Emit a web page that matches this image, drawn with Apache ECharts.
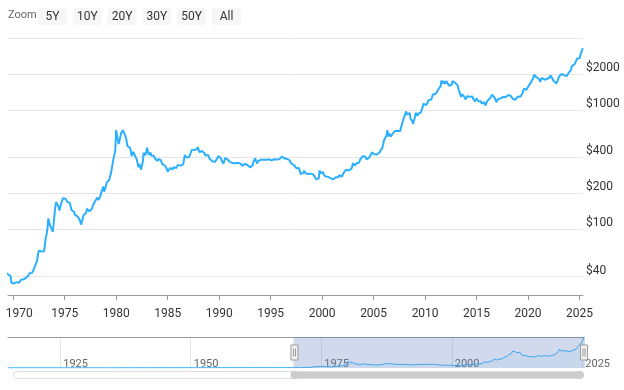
<!DOCTYPE html>
<html><head><meta charset="utf-8">
<script src="https://cdn.jsdelivr.net/npm/echarts@6/dist/echarts.min.js"></script>
<style>html,body{margin:0;padding:0;background:#fff}#c{width:624px;height:390px}</style>
</head><body><div id="c"></div>
<script>
// Pre-1969 history (used by the navigator)
const historyYears  = [1915, 1933.9, 1934.1, 1967.9, 1968.25, 1968.5, 1968.75, 1969.0, 1969.25];
const historyPrices = [20.67, 20.67, 35.0, 35.0, 38.0, 40.5, 39.5, 42.3, 43.3];
// Monthly averages, USD/oz
const gold1969H2 = [41.8, 41.0, 40.8, 40.4, 35.4, 35.2];
const gold1970s = [
 34.99,35.00,35.10,35.60,35.90,35.40,35.30,35.40,36.20,37.50,37.40,37.40,
 37.90,38.70,38.90,39.00,40.50,40.10,41.00,42.70,42.00,42.50,42.90,43.50,
 45.80,48.30,48.30,49.00,54.60,62.10,65.70,67.00,65.50,64.90,62.90,63.90,
 65.10,74.20,84.40,90.50,102.0,122.5,120.2,106.8,102.9,100.1,94.80,106.7,
 129.2,150.2,168.4,172.2,163.3,154.1,143.0,154.6,151.8,158.8,181.7,183.9,
 176.0,179.6,178.6,169.6,167.4,164.3,165.4,163.2,144.6,142.4,142.7,139.3,
 131.5,130.4,132.7,128.0,126.9,125.9,117.6,109.0,114.0,116.1,130.3,133.9,
 132.3,136.3,148.1,149.2,146.6,140.8,143.4,145.0,149.4,158.8,162.2,160.5,
 173.2,178.2,183.7,175.3,176.3,183.7,188.7,206.2,212.4,227.6,206.1,207.8,
 227.3,245.7,242.1,239.2,257.6,279.1,294.6,300.8,355.1,391.7,392.5,455.1];
const gold1980s = [
 675.3,665.3,553.6,517.4,513.8,600.7,644.3,627.2,673.6,661.2,623.5,594.9,
 557.5,500.2,499.8,495.8,479.7,460.8,409.3,410.2,443.6,437.8,413.4,410.1,
 384.4,374.2,330.2,350.5,333.9,314.9,339.1,364.2,435.6,422.6,414.8,444.3,
 481.3,491.3,419.8,432.6,437.3,412.8,422.7,416.3,411.8,393.5,381.6,388.0,
 370.9,386.8,394.6,381.4,377.7,377.6,348.2,348.4,341.1,340.2,341.2,320.2,
 302.8,299.1,304.0,324.9,316.5,316.8,317.4,330.1,323.1,325.3,325.3,322.4,
 345.4,338.9,345.7,340.4,342.5,342.8,348.5,376.7,417.7,423.2,397.8,388.8,
 408.3,401.1,408.9,438.4,460.2,449.6,450.5,461.3,460.6,465.4,467.6,486.3,
 477.2,442.2,443.6,451.7,451.3,451.5,437.5,431.6,413.5,406.8,420.1,418.7,
 404.0,387.8,390.2,384.3,371.0,367.6,375.0,365.4,361.8,366.9,393.2,409.4];
const gold1990s = [
 410.1,416.8,393.1,374.3,369.1,352.3,362.5,394.8,389.3,380.7,381.8,378.2,
 383.6,363.8,363.3,358.4,356.8,366.7,367.7,356.2,348.7,358.7,360.0,361.1,
 354.4,353.9,344.3,338.5,337.2,340.8,352.7,343.4,345.5,344.4,335.0,334.8,
 329.0,329.4,330.1,342.2,367.2,371.4,392.1,379.7,355.3,364.2,373.6,383.1,
 386.9,381.9,384.1,377.3,381.4,385.6,385.5,380.4,391.6,389.8,384.4,379.3,
 378.6,376.5,381.9,391.0,385.1,387.6,386.2,383.6,383.1,383.0,385.5,387.4,
 399.5,404.8,396.2,392.8,391.9,385.3,383.5,387.5,383.1,381.1,378.5,369.2,
 355.0,346.6,351.8,344.5,343.8,340.8,324.1,324.0,322.8,324.9,306.0,288.7,
 289.2,297.5,295.9,308.4,299.1,292.3,292.9,284.1,289.0,295.9,294.3,291.6,
 287.1,287.3,285.9,282.6,276.4,261.3,256.1,256.7,265.1,311.0,293.2,283.1];
const gold2000s = [
 284.6,300.9,286.4,279.7,275.3,285.7,281.6,274.5,273.7,270.0,266.0,272.0,
 265.5,261.9,263.0,260.5,272.4,270.2,267.5,272.4,283.4,283.1,276.2,275.9,
 281.7,295.5,294.0,302.7,314.5,321.2,313.3,310.3,319.2,316.6,319.2,333.4,
 356.9,359.0,340.6,328.2,355.7,356.4,351.0,359.8,378.9,378.9,389.9,407.6,
 414.0,405.3,406.7,403.0,383.8,392.4,398.1,400.5,405.3,420.5,439.4,442.1,
 424.0,423.4,434.2,429.2,421.9,430.7,424.5,437.9,456.0,469.9,476.7,509.8,
 549.9,555.0,557.1,610.6,676.5,596.2,633.8,632.6,598.2,585.8,627.8,629.8,
 631.2,664.8,654.9,679.4,666.9,655.5,665.3,665.4,712.7,754.6,806.3,803.2,
 889.6,922.3,968.4,909.7,888.7,889.5,939.8,839.0,829.9,806.6,760.9,816.1,
 858.7,943.2,924.3,890.2,928.6,945.7,934.2,949.4,996.6,1043.2,1127.0,1134.7];
const gold2010s = [
 1118.0,1095.4,1113.3,1148.7,1205.4,1232.9,1193.0,1215.8,1271.0,1342.0,1369.9,1390.6,
 1356.4,1372.7,1424.0,1473.8,1510.4,1528.7,1572.8,1755.8,1771.9,1665.2,1739.0,1652.3,
 1656.1,1742.6,1673.8,1649.7,1591.2,1598.8,1594.3,1630.3,1744.8,1746.6,1721.6,1684.8,
 1671.9,1627.6,1593.1,1487.9,1414.0,1343.4,1285.5,1351.7,1348.6,1316.6,1275.9,1221.5,
 1244.3,1299.6,1336.1,1298.5,1288.7,1279.1,1310.6,1295.1,1236.6,1222.5,1176.3,1202.3,
 1251.9,1227.1,1178.6,1198.9,1198.6,1181.5,1128.3,1117.9,1124.8,1159.3,1086.4,1075.7,
 1097.9,1199.5,1245.1,1242.3,1260.9,1276.4,1336.7,1340.2,1326.6,1266.6,1238.4,1157.4,
 1192.1,1234.2,1231.4,1266.9,1246.0,1260.3,1236.8,1283.0,1314.1,1279.5,1281.9,1264.5,
 1331.3,1330.7,1324.7,1334.8,1303.5,1281.6,1237.7,1201.7,1198.4,1215.4,1220.7,1250.4,
 1291.8,1320.1,1300.9,1285.9,1283.7,1359.0,1412.9,1500.4,1510.6,1494.8,1470.0,1479.1];
const gold2020s = [
 1560.7,1597.1,1591.9,1683.2,1715.9,1732.2,1846.5,1968.6,1921.9,1900.3,1866.3,1858.4,
 1867.6,1808.2,1718.2,1760.0,1850.3,1834.6,1807.8,1785.3,1775.1,1776.7,1820.8,1788.3,
 1816.0,1856.3,1947.8,1937.4,1848.5,1836.6,1732.7,1765.9,1680.6,1664.5,1725.1,1797.6,
 1897.8,1854.4,1912.7,2000.4,1992.6,1942.9,1951.0,1918.7,1916.2,1916.6,1985.8,2030.0,
 2033.9,2024.5,2158.1,2331.6,2351.3,2325.9,2398.1,2470.7,2570.3,2690.3,2650.9,2648.0,
 2707.3,2894.7,2983.3,3193.2,3278.0];

const xTickYears = [1970,1975,1980,1985,1990,1995,2000,2005,2010,2015,2020,2025];
const navTickYears = [1925,1950,1975,2000,2025];
const yLabelValues = [40,100,200,400,1000,2000];
const yGridValues = [40,100,200,400,1000,2000,3999.5];
const zoomButtons = ['5Y','10Y','20Y','30Y','50Y','All'];
const viewStart = 1969.5, viewEnd = 2025.33, dataStart = 1915;

function monthly(startYear, values) { return values.map((v, i) => [startYear + i / 12, v]); }
const goldSeries = historyYears.map((y, i) => [y, historyPrices[i]])
  .concat(monthly(1969.5, gold1969H2), monthly(1970, gold1970s), monthly(1980, gold1980s),
          monthly(1990, gold1990s), monthly(2000, gold2000s), monthly(2010, gold2010s),
          monthly(2020, gold2020s));

const FONT = 'Roboto, "Noto Sans", sans-serif';
const buttons = [{type:'text', left: 8, top: 10, style:{text:'Zoom', fill:'#666', font:'11px '+FONT}}];
zoomButtons.forEach((b, i) => {
  buttons.push({type:'group', left: 38 + i * 34.8, top: 8, children:[
    {type:'rect', shape:{x:0, y:0, width:29, height:17, r:2}, style:{fill:'#f7f7f7'}},
    {type:'text', x:14.5, y:8.5, style:{text:b, fill:'#333', font:'12px '+FONT, align:'center', verticalAlign:'middle'}}
  ]});
});

const chart = echarts.init(document.getElementById('c'), null, {renderer:'canvas'});
chart.setOption({
  animation: false,
  textStyle: {fontFamily: FONT},
  graphic: buttons,
  grid: [
    {left: 8, right: 41, top: 38, bottom: 95},
    {left: 8, right: 40, top: 337, height: 31}
  ],
  xAxis: [
    {gridIndex:0, type:'value', min:dataStart, max:viewEnd,
     axisLine:{lineStyle:{color:'#999'}},
     axisTick:{customValues:xTickYears, length:5, lineStyle:{color:'#999'}},
     axisLabel:{customValues:xTickYears, color:'#333', fontSize:12, margin:13,
       formatter: v => v === xTickYears[0] ? '{first|' + v + '}' : String(v),
       rich:{first:{padding:[0,0,0,12], color:'#333', fontSize:12, fontFamily:FONT}}},
     splitLine:{show:false}},
    {gridIndex:1, type:'value', min:dataStart, max:viewEnd, position:'bottom',
     axisLine:{show:false},
     axisTick:{show:false, customValues:navTickYears},
     axisLabel:{inside:true, customValues:navTickYears, formatter: v => String(v), align:'left', padding:[0,0,0,3], margin:-2, fontSize:11, color:'#666'},
     splitLine:{show:true, lineStyle:{color:'#e6e6e6'}}},
    {gridIndex:1, type:'value', min:dataStart, max:viewEnd, position:'top',
     axisLine:{show:true, lineStyle:{color:'#999'}}, axisTick:{show:false}, axisLabel:{show:false}, splitLine:{show:false}}
  ],
  yAxis: [
    {gridIndex:0, type:'log', logBase:10, min:28, max:4000, position:'right',
     axisLine:{show:false},
     axisTick:{show:false, customValues:yGridValues},
     axisLabel:{customValues:yLabelValues, formatter: v => '$' + v, color:'#333', fontSize:12, margin:3, align:'left', verticalAlign:'bottom'},
     splitLine:{show:true, lineStyle:{color:'#e6e6e6'}}},
    {gridIndex:1, type:'value', min:0, max:'dataMax', show:false}
  ],
  dataZoom: [
    {type:'slider', xAxisIndex:0, filterMode:'none', startValue:viewStart, endValue:viewEnd,
     left:8, right:40, top:337, height:31, showDataShadow:false, showDetail:false,
     backgroundColor:'rgba(0,0,0,0)', borderColor:'transparent', fillerColor:'rgba(102,133,194,0.3)',
     handleIcon:'path://M0.5,0.5 L7.5,0.5 L7.5,15.5 L0.5,15.5 Z M3,4 L3,12 M5,4 L5,12',
     handleSize:15, handleStyle:{color:'#f2f2f2', borderColor:'#999', borderWidth:1},
     moveHandleSize:0, brushSelect:false},
    {type:'slider', xAxisIndex:0, filterMode:'none', startValue:viewStart, endValue:viewEnd,
     left:12, right:44, top:371, height:8, showDataShadow:false, showDetail:false,
     backgroundColor:'#fff', borderColor:'#ddd', borderRadius:4, fillerColor:'#ccc',
     handleIcon:'circle', handleSize:8, handleStyle:{color:'#ccc', borderColor:'#ccc', borderWidth:0},
     moveHandleSize:0, brushSelect:false}
  ],
  series: [
    {type:'line', xAxisIndex:0, yAxisIndex:0, data:goldSeries, showSymbol:false, clip:true,
     lineStyle:{color:'#2caffe', width:2}, itemStyle:{color:'#2caffe'}},
    {type:'line', xAxisIndex:1, yAxisIndex:1, data:goldSeries, showSymbol:false, silent:true,
     lineStyle:{color:'#2caffe', width:1}, areaStyle:{color:'#2caffe', opacity:0.05}}
  ]
});
</script></body></html>
